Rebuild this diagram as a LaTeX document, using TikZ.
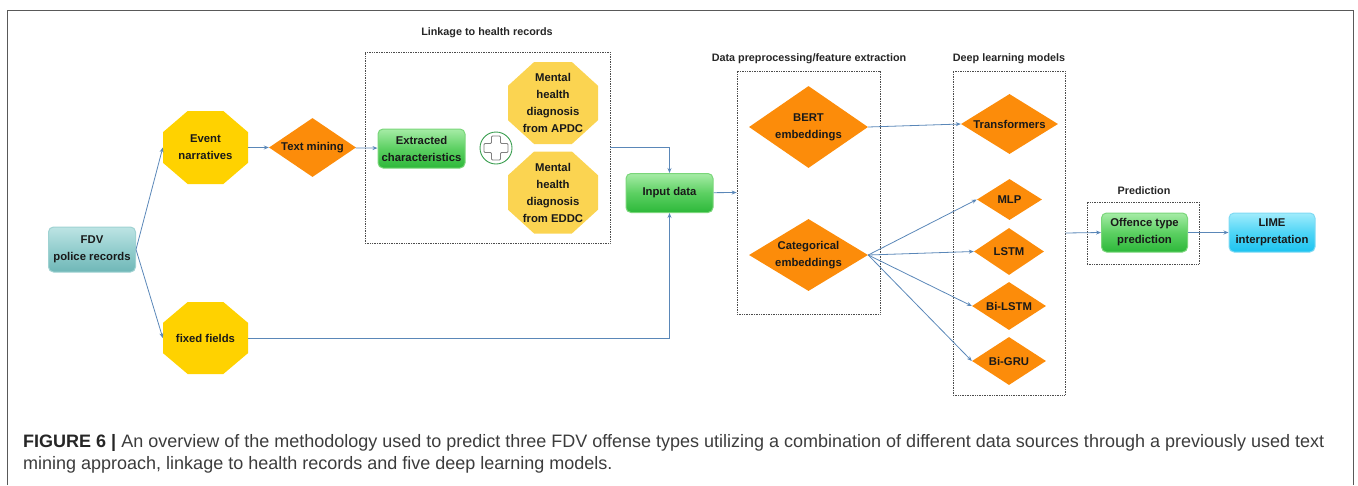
\documentclass[tikz,border=0pt]{standalone}
\usepackage{fontspec}
\setmainfont{Liberation Sans}
\usetikzlibrary{shapes.geometric,arrows.meta,calc}

\definecolor{linkblue}{HTML}{5A87B8}
\definecolor{goldfill}{HTML}{FFD200}
\definecolor{palegold}{HTML}{FBD451}
\definecolor{orangefill}{HTML}{FC8C0A}
\definecolor{plusgreen}{HTML}{3A9E50}
\definecolor{greentop}{HTML}{A6ECA6}
\definecolor{greenmid}{HTML}{5CD062}
\definecolor{greenbot}{HTML}{2DB83A}
\definecolor{greenedge}{HTML}{7AD67A}
\definecolor{tealtop}{HTML}{BDE4E4}
\definecolor{tealmid}{HTML}{93CDCD}
\definecolor{tealbot}{HTML}{6FB7B7}
\definecolor{tealedge}{HTML}{9FD2D2}
\definecolor{cyantop}{HTML}{A0ECFC}
\definecolor{cyanmid}{HTML}{4FD5F6}
\definecolor{cyanbot}{HTML}{1CC3F0}
\definecolor{cyanedge}{HTML}{80DAF3}
\definecolor{captext}{HTML}{3C3C3C}

\tikzset{
  txt/.style={font=\fontsize{11.3}{17}\selectfont\bfseries, text=black!90, align=center, inner sep=0pt},
  head/.style={font=\fontsize{10.8}{13}\selectfont\bfseries, text=black!85},
  captionline/.style={font=\fontsize{18}{22}\selectfont, text=captext, inner sep=0pt},
  octa/.style={txt, path picture={
      \path (path picture bounding box.south west) coordinate (o1)
            (path picture bounding box.south east) coordinate (o2)
            (path picture bounding box.north east) coordinate (o3)
            (path picture bounding box.north west) coordinate (o4);
      \fill[#1] ($(o1)!0.29!(o2)$) -- ($(o1)!0.71!(o2)$) -- ($(o2)!0.29!(o3)$) -- ($(o2)!0.71!(o3)$)
        -- ($(o3)!0.29!(o4)$) -- ($(o3)!0.71!(o4)$) -- ($(o4)!0.29!(o1)$) -- ($(o4)!0.71!(o1)$) -- cycle;}},
  dia/.style={txt, diamond, fill=orangefill, aspect=1.6},
  gloss/.style={txt, rounded corners=5pt, line width=1pt, draw=#1edge,
      top color=#1top, bottom color=#1bot, middle color=#1mid},
  dotbox/.style={draw=black!70, densely dotted, line width=0.7pt, inner sep=0pt},
  link/.style={draw=linkblue, line width=0.8pt, -{Stealth[length=5pt,width=4pt]}},
  frame/.style={draw=black!65, line width=1pt}
}

\begin{document}
\begin{tikzpicture}[x=1pt,y=-1pt]
    \useasboundingbox (0,0) rectangle (1358,485);
    \draw[frame] (7,485) -- (7,10) -- (1353,10) -- (1353,485);

    \node[dotbox, minimum width=245, minimum height=191] (linkbox) at (487.5,147.5) {};
    \node[dotbox, minimum width=143, minimum height=243] (prepbox) at (808.5,192.5) {};
    \node[dotbox, minimum width=112, minimum height=324] (dlbox) at (1009,233) {};
    \node[dotbox, minimum width=112, minimum height=62] (predbox) at (1143,233) {};

    \node[head] (linkhead) at (487,33) {Linkage to health records};
    \node[head] (prephead) at (809,59) {Data preprocessing/feature extraction};
    \node[head] (dlhead) at (1009,59) {Deep learning models};
    \node[head] (predhead) at (1144,191) {Prediction};

    \node[gloss=teal, minimum width=87, minimum height=45] (fdv) at (92,249.5) {FDV\\police records};
    \node[octa=goldfill, minimum width=85, minimum height=73] (event) at (205.5,147.5) {Event\\narratives};
    \node[octa=goldfill, minimum width=85, minimum height=72] (fixed) at (205.5,338) {fixed fields};
    \node[dia, minimum width=87, minimum height=59] (textmining) at (312.5,147.5) {Text mining};
    \node[gloss=green, minimum width=87, minimum height=39] (extracted) at (421.5,148.5) {Extracted\\characteristics};

    \node[circle, draw=plusgreen, line width=0.9pt, fill=white, minimum size=32, inner sep=0pt] (plus) at (496,148) {};
    \draw[black!50, line width=0.8pt, rounded corners=1pt, shift={(plus.center)}]
        (-4.5,-12) -- (4.5,-12) -- (4.5,-4.5) -- (12,-4.5) -- (12,4.5) -- (4.5,4.5)
        -- (4.5,12) -- (-4.5,12) -- (-4.5,4.5) -- (-12,4.5) -- (-12,-4.5) -- (-4.5,-4.5) -- cycle;

    \node[octa=palegold, minimum width=90, minimum height=82] (apdc) at (553,103) {Mental\\health\\diagnosis\\from APDC};
    \node[octa=palegold, minimum width=90, minimum height=82] (eddc) at (553,192.5) {Mental\\health\\diagnosis\\from EDDC};

    \node[gloss=green, minimum width=87, minimum height=39] (input) at (669.5,193) {Input data};

    \node[dia, minimum width=119, minimum height=82] (bert) at (808.5,127) {BERT\\embeddings};
    \node[dia, minimum width=119, minimum height=72, aspect=1.65] (categorical) at (808.5,255) {Categorical\\embeddings};

    \node[dia, minimum width=97, minimum height=60] (transformers) at (1009.5,124) {Transformers};
    \node[dia, minimum width=65, minimum height=41] (mlp) at (1009.5,199.5) {MLP};
    \node[dia, minimum width=70, minimum height=47] (lstm) at (1009,251.5) {LSTM};
    \node[dia, minimum width=74, minimum height=48] (bilstm) at (1009,306) {Bi-LSTM};
    \node[dia, minimum width=74, minimum height=48] (bigru) at (1009,361) {Bi-GRU};

    \node[gloss=green, minimum width=86, minimum height=39] (offence) at (1144.5,232.5) {Offence type\\prediction};
    \node[gloss=cyan, minimum width=86, minimum height=39] (lime) at (1272,232.5) {LIME\\interpretation};

    \draw[link] (fdv.east) -- (event.west);
    \draw[link] (fdv.east) -- (fixed.west);
    \draw[link] (event) -- (textmining);
    \draw[link] (textmining) -- (extracted);
    \draw[link] (linkbox.east) -| (input.north);
    \draw[link] (fixed.east) -| (input.south);
    \draw[link] (input) -- (prepbox.west);
    \draw[link] (bert.east) -- (transformers.west);
    \foreach \m in {mlp,lstm,bilstm,bigru}
        \draw[link] (categorical.east) -- (\m.west);
    \draw[link] (dlbox.east) -- (offence.west);
    \draw[link] (offence) -- (lime);

    \node[captionline, anchor=base west] (capone) at (23,447) {{\bfseries\color{black!85}FIGURE 6 |} An overview of the methodology used to predict three FDV offense types utilizing a combination of different data sources through a previously used text};
    \node[captionline, anchor=base west] (captwo) at (23,469) {mining approach, linkage to health records and five deep learning models.};
\end{tikzpicture}
\end{document}
